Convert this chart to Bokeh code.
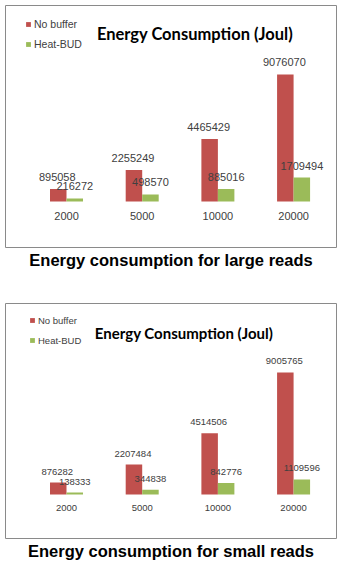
from bokeh.plotting import figure
from bokeh.models import (ColumnDataSource, Range1d, Legend, LegendItem, Label, Title)
from bokeh.layouts import column
from bokeh.embed import file_html
from bokeh.resources import INLINE
from bokeh.core.properties import value

categories = ["2000", "5000", "10000", "20000"]
large_nobuffer = [895058, 2255249, 4465429, 9076070]
large_heatbud = [216272, 498570, 885016, 1709494]
small_nobuffer = [876282, 2207484, 4514506, 9005765]
small_heatbud = [138333, 344838, 842776, 1109596]

RED = "#C0504D"
GREEN = "#9BBB59"
TXT = "#404040"


def panel(nobuf, heat, caption, height, top, bottom, yr, lbl_size, title_size,
          title_xy, legend_loc, legend_size, lbl_off, cat_off):
    idx = list(range(len(categories)))
    bw = 0.218
    src = ColumnDataSource(dict(
        i=idx, cat=categories, nb=nobuf, hb=heat,
        xr=[k - bw / 2 for k in idx], xg=[k + bw / 2 for k in idx],
        nbs=[str(v) for v in nobuf], hbs=[str(v) for v in heat],
        zero=[0] * len(idx)))
    p = figure(width=345, height=height, output_backend="svg", toolbar_location=None,
               x_axis_location=None, y_axis_location=None,
               x_range=Range1d(-0.806, 3.567), y_range=Range1d(*yr),
               min_border_left=5, min_border_right=9,
               min_border_top=top, min_border_bottom=bottom)
    p.grid.visible = False
    p.outline_line_color = "#8a8a8a"
    p.outline_line_width = 1
    r1 = p.vbar(x="xr", top="nb", bottom=0, width=bw, source=src,
                fill_color=RED, line_color=None)
    r2 = p.vbar(x="xg", top="hb", bottom=0, width=bw, source=src,
                fill_color=GREEN, line_color=None)
    p.text(x="xr", y="nb", text="nbs", source=src, text_align="center",
           text_baseline="middle", y_offset=-lbl_off, x_offset=-1,
           text_font=value("Liberation Sans"), text_font_size=lbl_size, text_color=TXT)
    p.text(x="xg", y="hb", text="hbs", source=src, text_align="center",
           text_baseline="middle", y_offset=-lbl_off,
           text_font=value("Liberation Sans"), text_font_size=lbl_size, text_color=TXT)
    p.text(x="i", y="zero", text="cat", source=src, text_align="center",
           text_baseline="middle", y_offset=cat_off,
           text_font=value("Liberation Sans"), text_font_size=lbl_size, text_color=TXT)
    p.add_layout(Label(x=title_xy[0], y=title_xy[1], x_units="screen", y_units="screen",
                       text="Energy Consumption (Joul)", text_align="center",
                       text_baseline="middle", text_font="Lato", text_font_style="bold",
                       text_font_size=title_size, text_color="black"))
    leg = Legend(items=[LegendItem(label="No buffer", renderers=[r1]),
                        LegendItem(label="Heat-BUD", renderers=[r2])],
                 location=legend_loc, orientation="vertical",
                 glyph_width=6, glyph_height=6, label_height=14, spacing=6,
                 padding=0, margin=0, label_standoff=3,
                 label_text_font="Liberation Sans", label_text_font_size=legend_size,
                 label_text_color=TXT, border_line_color=None,
                 background_fill_alpha=0)
    p.add_layout(leg)
    p.add_layout(Title(text=caption, align="center", text_font="Liberation Sans",
                       text_font_style="bold", text_font_size="16.5px",
                       text_color="black", standoff=2), "below")
    return p


p1 = panel(large_nobuffer, large_heatbud, "Energy consumption for large reads",
           290, 5, 43, (-3.29e6, 14.0e6), "11px", "16.5px", (189.5, 214),
           (20, 196), "10.5px", 12, 15)
p2 = panel(small_nobuffer, small_heatbud, "Energy consumption for small reads",
           274, 13, 26, (-3.25e6, 14.1e6), "9.5px", "15px", (178.5, 206),
           (24, 191), "9.5px", 11, 14)

layout = column(p1, p2, spacing=0)
open("out.html", "w").write(file_html(layout, INLINE))
